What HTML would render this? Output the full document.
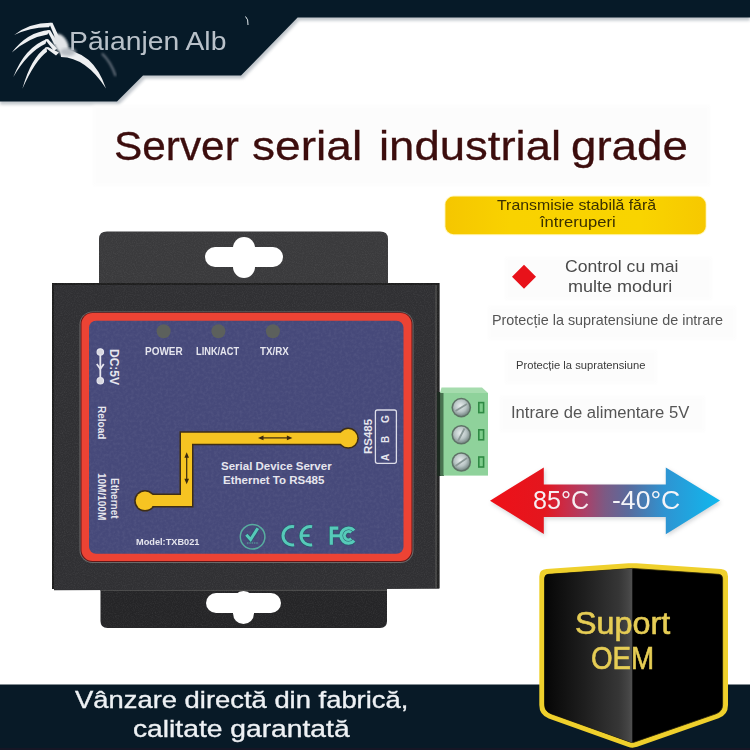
<!DOCTYPE html>
<html><head><meta charset="utf-8">
<style>
html,body{margin:0;padding:0;background:#fff;}
body{width:750px;height:750px;overflow:hidden;position:relative;font-family:"Liberation Sans",sans-serif;}
.abs{position:absolute;white-space:nowrap;line-height:1;}
svg.full{position:absolute;left:0;top:0;}
.lb{font-weight:bold;color:#e6e6ee;}
</style></head><body>

<svg class="full" width="750" height="750" viewBox="0 0 750 750">
  <defs>
    <filter id="sh" x="-10%" y="-10%" width="120%" height="140%"><feGaussianBlur stdDeviation="1.5"/></filter>
    <filter id="blur1"><feGaussianBlur stdDeviation="0.6"/></filter>
    <linearGradient id="pill" x1="0" y1="0" x2="1" y2="0">
      <stop offset="0" stop-color="#f5c600"/>
      <stop offset="0.25" stop-color="#f9d200"/>
      <stop offset="0.75" stop-color="#f9d400"/>
      <stop offset="1" stop-color="#f6c800"/>
    </linearGradient>
    <linearGradient id="arrowg" x1="490" y1="0" x2="720" y2="0" gradientUnits="userSpaceOnUse">
      <stop offset="0" stop-color="#ee1018"/>
      <stop offset="0.235" stop-color="#e4161e"/>
      <stop offset="0.32" stop-color="#cc2a44"/>
      <stop offset="0.42" stop-color="#a8426a"/>
      <stop offset="0.5" stop-color="#7c5a84"/>
      <stop offset="0.6" stop-color="#5a6a9c"/>
      <stop offset="0.76" stop-color="#2e94d2"/>
      <stop offset="1" stop-color="#10b8ee"/>
    </linearGradient>
    <filter id="ash" x="-10%" y="-20%" width="120%" height="140%"><feGaussianBlur stdDeviation="2"/></filter>
    <linearGradient id="shieldL" x1="545" y1="0" x2="632" y2="0" gradientUnits="userSpaceOnUse">
      <stop offset="0" stop-color="#060606"/>
      <stop offset="0.45" stop-color="#1e1e1e"/>
      <stop offset="0.85" stop-color="#363636"/>
      <stop offset="0.95" stop-color="#444444"/>
      <stop offset="1" stop-color="#4e4e4e"/>
    </linearGradient>
  </defs>

  <!-- header shape -->
  <polygon points="0,2 750,2 750,20.5 299,20.5 243,78.5 145,78.5 119,104.5 0,104.5" fill="#8c96a0" opacity="0.55" filter="url(#sh)"/>
  <polygon points="0,0 750,0 750,17.6 297.6,17.6 241,75.5 143,75.5 117,101.5 0,101.5" fill="#061a28"/>
  <!-- title light box -->
  <rect x="93" y="105" width="617" height="81" fill="#fcfcfc" opacity="0.8" filter="url(#sh)"/>

  <!-- bottom band -->
  <rect x="0" y="684.5" width="750" height="65.5" fill="#081a27"/>
  <rect x="0" y="748" width="750" height="2" fill="#201424" opacity="0.6"/>

  <!-- faint boxes -->
  <g fill="#fcfcfc" filter="url(#sh)" opacity="0.8">
    <rect x="505" y="257" width="207" height="43"/>
    <rect x="488" y="306" width="248" height="34"/>
    <rect x="505" y="350" width="152" height="34"/>
    <rect x="500" y="396" width="205" height="36"/>
  </g>
  <!-- yellow pill -->
  <rect x="444.4" y="195.6" width="262.3" height="39.6" rx="9" fill="#fff4a0" opacity="0.6" filter="url(#blur1)"/>
  <rect x="445.4" y="196.6" width="260.3" height="37.6" rx="8" fill="url(#pill)"/>

  <!-- red diamond -->
  <rect x="515.5" y="268.2" width="17" height="17" fill="#e8121a" transform="rotate(45 524 276.7)"/>

  <!-- temperature arrow -->
  <polygon points="491,502.7 545,469.3 545,486.3 667,486.3 667,469.3 721,502.7 667,536 667,519 545,519 545,536" fill="#808890" opacity="0.35" filter="url(#ash)"/>
  <polygon points="490,500.7 543.8,467.4 543.8,484.4 665.8,484.4 665.8,467.6 720,500.6 665.8,534.2 665.8,517 543.8,517 543.8,534" fill="url(#arrowg)"/>

  <!-- OEM shield -->
  <path d="M539.30,576.50 Q539.30,569.50 546.28,569.01 L628.51,563.28 Q632.50,563.00 636.49,563.27 L721.02,569.02 Q728.00,569.50 728.00,576.50 L728.00,705.00 Q728.00,715.00 718.56,718.31 L637.22,746.84 Q632.50,748.50 627.79,746.81 L548.71,718.38 Q539.30,715.00 539.30,705.00 Z" fill="#efd02c"/>
  <path d="M544.60,578.60 Q544.60,574.60 548.59,574.32 L632.20,568.41 Q632.30,568.40 632.40,568.41 L718.61,574.33 Q722.60,574.60 722.60,578.60 L722.60,704.50 Q722.60,711.50 715.99,713.79 L634.19,742.14 Q632.30,742.80 630.42,742.13 L551.19,713.85 Q544.60,711.50 544.60,704.50 Z" fill="#000" stroke="#2a2408" stroke-width="0.8"/>
  <path d="M544.60,578.60 Q544.60,574.60 548.59,574.32 L632.20,568.41 Q632.30,568.40 632.30,568.50 L632.30,742.70 Q632.30,742.80 632.21,742.77 L551.19,713.85 Q544.60,711.50 544.60,704.50 Z" fill="url(#shieldL)"/>

  <!-- ===== device ===== -->
  <defs>
    <filter id="noise" x="0" y="0" width="100%" height="100%">
      <feTurbulence type="fractalNoise" baseFrequency="0.9" numOctaves="2" seed="3" result="n"/>
      <feColorMatrix type="matrix" values="0 0 0 0 0.5  0 0 0 0 0.5  0 0 0 0 0.5  0 0 0 0.9 -0.35"/>
      <feComposite in2="SourceGraphic" operator="in"/>
    </filter>
    <filter id="noise2" x="0" y="0" width="100%" height="100%">
      <feTurbulence type="fractalNoise" baseFrequency="0.35" numOctaves="3" seed="7" result="n"/>
      <feColorMatrix type="matrix" values="0 0 0 0 0.6  0 0 0 0 0.6  0 0 0 0 0.7  0 0 0 1.2 -0.45"/>
      <feComposite in2="SourceGraphic" operator="in"/>
    </filter>
  </defs>
  <!-- top tab -->
  <path d="M99,290 L99,239 Q99,231.6 107,231.6 L380,231.6 Q388,231.6 388,239 L388,290 Z" fill="#3a3a3c"/>
  <rect x="205" y="247" width="78" height="20" rx="10" fill="#fff"/>
  <rect x="233" y="237" width="22" height="41" rx="11" fill="#fff"/>
  <!-- bottom tab -->
  <path d="M100.5,580 L100.5,621 Q100.5,628 107.5,628 L380,628 Q387,628 387,621 L387,580 Z" fill="#252527"/>
  <rect x="100.5" y="589.5" width="286.5" height="1.5" fill="#4a4a4a"/>
  <rect x="206" y="593" width="75" height="20" rx="10" fill="#fff"/>
  <rect x="233" y="591" width="21" height="33" rx="10.5" fill="#fff"/>
  <!-- body -->
  <polygon points="52,283.5 439.4,283 439.4,588.8 54,590.2" fill="#303033"/>
  <rect x="52" y="283" width="387.4" height="2" fill="#1e1e1e"/>
  <rect x="52" y="283" width="2" height="306" fill="#1e1e1e"/>
  <rect x="435" y="285" width="2" height="303" fill="#444"/>
  <rect x="437" y="285" width="2.4" height="303" fill="#222"/>
  <mask id="devmask" maskUnits="userSpaceOnUse" x="0" y="0" width="750" height="750">
    <rect x="52" y="283" width="387.4" height="306" fill="#fff"/>
    <rect x="99" y="232" width="289" height="60" rx="7" fill="#fff"/>
    <rect x="100.5" y="585" width="286.5" height="42.5" rx="5" fill="#fff"/>
    <rect x="205" y="247" width="78" height="20" rx="10" fill="#000"/>
    <rect x="233" y="237" width="22" height="41" rx="11" fill="#000"/>
    <rect x="206" y="593" width="75" height="20" rx="10" fill="#000"/>
    <rect x="233" y="591" width="21" height="33" rx="10.5" fill="#000"/>
  </mask>
  <g mask="url(#devmask)"><rect x="52" y="232" width="388" height="396" fill="#fff" filter="url(#noise)" opacity="0.22"/></g>
  <!-- red frame -->
  <rect x="79.5" y="311.5" width="334" height="251.5" rx="13" fill="#6a6a6a"/>
  <rect x="80.5" y="312.2" width="332" height="249.8" rx="12" fill="#641616"/>
  <rect x="81.5" y="313" width="330" height="248" rx="11" fill="#ec4334"/>
  <rect x="89" y="320.7" width="314.5" height="233" rx="7" fill="#46497a"/>
  <rect x="89" y="320.7" width="314.5" height="233" rx="7" fill="#fff" filter="url(#noise2)" opacity="0.12"/>

  <!-- LEDs -->
  <circle cx="163.6" cy="331.3" r="7" fill="#5c605c"/>
  <circle cx="218.4" cy="331.3" r="7" fill="#5c605c"/>
  <circle cx="272.9" cy="331.3" r="7" fill="#5c605c"/>

  <!-- yellow trace -->
  <g stroke="#3e2e16" stroke-width="14" fill="none" stroke-linejoin="miter">
    <polyline points="145,500.6 186.5,500.6 186.5,438.2 348.2,438.2"/>
  </g>
  <circle cx="145" cy="500.8" r="10.8" fill="#3e2e16"/>
  <circle cx="348.2" cy="438.2" r="10.6" fill="#3e2e16"/>
  <g stroke="#f6c422" stroke-width="11" fill="none" stroke-linejoin="miter">
    <polyline points="145,500.6 186.5,500.6 186.5,438.2 348.2,438.2"/>
  </g>
  <circle cx="145" cy="500.8" r="9.3" fill="#f6c422"/>
  <circle cx="348.2" cy="438.2" r="9.1" fill="#f6c422"/>
  <!-- trace arrows -->
  <g stroke="#3a2810" stroke-width="1.2" fill="none">
    <line x1="261" y1="437.9" x2="289.5" y2="437.9"/>
    <line x1="186.7" y1="455" x2="186.7" y2="481.5"/>
  </g>
  <g fill="#3a2810">
    <polygon points="258,437.9 263.5,435.6 263.5,440.2"/>
    <polygon points="292.4,437.9 286.9,435.6 286.9,440.2"/>
    <polygon points="186.7,452.3 184.4,457.8 189,457.8"/>
    <polygon points="186.7,484.3 184.4,478.8 189,478.8"/>
  </g>

  <!-- DC symbol -->
  <g stroke="#e6e6ee" stroke-width="1.8" fill="none">
    <circle cx="100.3" cy="352" r="3.2" fill="#d8d8e0" stroke-width="1.2"/>
    <circle cx="100.3" cy="380.7" r="3.2" fill="#d8d8e0" stroke-width="1.2"/>
    <line x1="100.3" y1="355" x2="100.3" y2="377.5"/>
    <polyline points="96.8,364 100.3,369 103.8,364"/>
  </g>

  <!-- RS485 box -->
  <rect x="375.4" y="410" width="21" height="53.3" rx="2" fill="none" stroke="#dcdce8" stroke-width="1.3"/>

  <!-- certification icons -->
  <g stroke="#1f5a64" fill="none" opacity="0.7">
    <path d="M294.11,526.80 A9.2,9.2 0 1 0 294.11,544.80" stroke-width="4.4"/>
    <path d="M312.11,526.80 A9.2,9.2 0 1 0 312.11,544.80" stroke-width="4.4"/>
    <line x1="301.6" y1="535.6" x2="309.6" y2="535.6" stroke-width="4.0"/>
    <polyline points="338.3,528.2 331.3,528.2 331.3,544.7" stroke-width="4.6"/>
    <line x1="331.3" y1="535.8" x2="340" y2="535.8" stroke-width="4.4"/>
    <path d="M354.15,530.51 A7.6,7.6 0 1 0 354.15,540.69" stroke-width="4.6"/>
    <path d="M351.24,532.55 A4.1,4.1 0 1 0 351.24,538.65" stroke-width="4.199999999999999"/>
    <polyline points="246.3,534.8 250.6,539.5 257.8,528.2" stroke-width="4.4"/>
  </g>
  <g stroke="#56cab9" fill="none">
    <circle cx="252.6" cy="536.8" r="12.3" stroke-width="1.5" stroke="#58ad9f"/>
    <line x1="247" y1="543" x2="258" y2="543" stroke-width="1.2" stroke="#58ad9f" stroke-dasharray="1.5 0.8"/>
    <path d="M294.11,526.80 A9.2,9.2 0 1 0 294.11,544.80" stroke-width="3"/>
    <path d="M312.11,526.80 A9.2,9.2 0 1 0 312.11,544.80" stroke-width="3"/>
    <line x1="301.6" y1="535.6" x2="309.6" y2="535.6" stroke-width="2.6"/>
    <polyline points="338.3,528.2 331.3,528.2 331.3,544.7" stroke-width="3.2"/>
    <line x1="331.3" y1="535.8" x2="340" y2="535.8" stroke-width="3.0"/>
    <path d="M354.15,530.51 A7.6,7.6 0 1 0 354.15,540.69" stroke-width="3.2"/>
    <path d="M351.24,532.55 A4.1,4.1 0 1 0 351.24,538.65" stroke-width="2.8"/>
    <polyline points="246.3,534.8 250.6,539.5 257.8,528.2" stroke-width="3"/>
  </g>

  <!-- terminal block -->
  <defs>
    <radialGradient id="screw" cx="0.45" cy="0.4" r="0.6">
      <stop offset="0" stop-color="#e8eeee"/>
      <stop offset="0.6" stop-color="#b8c4c4"/>
      <stop offset="1" stop-color="#7a8a88"/>
    </radialGradient>
  </defs>
  <rect x="437" y="392" width="7" height="84" fill="#1c2a20"/>
  <polygon points="440,393 441.5,387.6 482,387.6 488,393" fill="#a6dcae"/>
  <rect x="440.5" y="393" width="47.5" height="82.6" fill="#8fd29b"/>
  <rect x="440.5" y="393" width="3" height="82.6" fill="#2a4a30" opacity="0.7"/>
  <g>
    <circle cx="461.3" cy="407.6" r="9.8" fill="#5e7266"/>
    <circle cx="461.3" cy="407.6" r="8.3" fill="url(#screw)"/>
    <circle cx="461.3" cy="434.8" r="9.8" fill="#5e7266"/>
    <circle cx="461.3" cy="434.8" r="8.3" fill="url(#screw)"/>
    <circle cx="461.3" cy="462" r="9.8" fill="#5e7266"/>
    <circle cx="461.3" cy="462" r="8.3" fill="url(#screw)"/>
    <line x1="455.5" y1="411" x2="467" y2="404" stroke="#8a9896" stroke-width="1.8"/>
    <line x1="458" y1="441" x2="464.5" y2="428.5" stroke="#8a9896" stroke-width="1.8"/>
    <line x1="455.5" y1="466" x2="467" y2="458" stroke="#8a9896" stroke-width="1.8"/>
  </g>
  <g fill="#7ccc8a" stroke="#2f8a44" stroke-width="1.6">
    <rect x="478.8" y="402.6" width="4.8" height="10"/>
    <rect x="478.8" y="429.8" width="4.8" height="10"/>
    <rect x="478.8" y="457" width="4.8" height="10"/>
  </g>

  <!-- spider logo -->
  <defs><filter id="sb"><feGaussianBlur stdDeviation="1.6"/></filter><filter id="sb2"><feGaussianBlur stdDeviation="0.9"/></filter><filter id="sb3"><feGaussianBlur stdDeviation="0.35"/></filter></defs>
  <g fill="#eef0f2" filter="url(#sb3)">
    <!-- claws -->
    <path d="M51.5,22.8 Q30,22.5 14.2,35 Q31,26.8 49,27.2 Z"/>
    <path d="M49.5,30 Q27,32 11.8,52.6 Q29,37.5 47.5,34.6 Z"/>
    <path d="M47,39 Q25,47 13.3,77 Q28,52 45.5,43.8 Z"/>
    <path d="M46.5,47 Q31,57.5 22.4,88.8 Q35,60.5 47,51.8 Z"/>
    <!-- femurs -->
    <path d="M49,23 L52.5,22.8 L59,37 L55.5,38.5 Z"/>
    <path d="M47,30.5 L50,30 L58,43 L54.5,44.5 Z"/>
    <path d="M45,39.5 L48,39 L57,48.5 L54,51 Z"/>
    <path d="M45,47.5 L48,47 L59,52.5 L56,55.5 Z"/>
    <!-- right leg -->
    <path d="M60,49.5 Q93,50 106,88.5 Q86,57.5 61,57 Z"/>
  </g>
  <ellipse cx="61" cy="44" rx="6.5" ry="11" fill="#e2e5e8" transform="rotate(-28 61 44)" filter="url(#sb2)"/>
  <ellipse cx="68" cy="52" rx="8" ry="4" fill="#b8bec4" filter="url(#sb)"/>
  <path d="M245.5,16.5 Q248.5,19 248,25" stroke="#e8eef2" stroke-width="1" fill="none"/>
  <path d="M102,53.5 Q111,62 115.6,76" stroke="#6a7480" stroke-width="2" fill="none" filter="url(#sb2)"/>
</svg>

<div class="abs" id="logo" style="left:68.5px;top:28.6px;font-size:25.5px;color:#b9c1c9;transform-origin:0 0;transform:scaleX(1.110);">Păianjen Alb</div>

<div class="abs" style="left:113.9px;top:126.1px;font-size:41.3px;color:#3c0d0d;-webkit-text-stroke:0.3px #3c0d0d;transform-origin:0 0;transform:scaleX(1.026);">Server</div>
<div class="abs" style="left:251.8px;top:126.1px;font-size:41.3px;color:#3c0d0d;-webkit-text-stroke:0.3px #3c0d0d;transform-origin:0 0;transform:scaleX(1.116);">serial</div>
<div class="abs" style="left:378.8px;top:126.1px;font-size:41.3px;color:#3c0d0d;-webkit-text-stroke:0.3px #3c0d0d;transform-origin:0 0;transform:scaleX(1.102);">industrial</div>
<div class="abs" style="left:570.7px;top:126.1px;font-size:41.3px;color:#3c0d0d;-webkit-text-stroke:0.3px #3c0d0d;transform-origin:0 0;transform:scaleX(1.106);">grade</div>

<!-- right column -->
<div class="abs" style="left:497.2px;top:197.5px;font-size:14.3px;color:#3a3000;transform-origin:0 0;transform:scaleX(1.11);">Transmisie stabilă fără</div>
<div class="abs" style="left:540px;top:215.3px;font-size:14.3px;color:#3a3000;transform-origin:0 0;transform:scaleX(1.16);">întreruperi</div>
<div class="abs" style="left:565px;top:258.3px;font-size:17px;color:#4a4a4a;transform-origin:0 0;transform:scaleX(1.035);">Control cu mai</div>
<div class="abs" style="left:567.7px;top:278px;font-size:17px;color:#4a4a4a;transform-origin:0 0;transform:scaleX(1.06);">multe moduri</div>
<div class="abs" style="left:491.6px;top:313.4px;font-size:14.6px;color:#555;transform-origin:0 0;transform:scaleX(0.985);">Protecție la supratensiune de intrare</div>
<div class="abs" style="left:516.1px;top:360.8px;font-size:10.4px;color:#3a3a3a;transform-origin:0 0;transform:scaleX(1.078);">Protecție la supratensiune</div>
<div class="abs" style="left:510.6px;top:405px;font-size:16.7px;color:#555;transform-origin:0 0;transform:scaleX(0.996);">Intrare de alimentare 5V</div>
<div class="abs" style="left:533px;top:488.3px;font-size:25.5px;color:#f6eef2;transform-origin:0 0;transform:scaleX(0.985);">85°C</div>
<div class="abs" style="left:611.9px;top:488.3px;font-size:25.5px;color:#f4f4f8;transform-origin:0 0;transform:scaleX(1.043);">-40°C</div>
<div class="abs" style="left:574.6px;top:607.6px;font-size:30.5px;color:#e6cd55;-webkit-text-stroke:0.6px #e6cd55;transform-origin:0 0;transform:scaleX(1.06);">Suport</div>
<div class="abs" style="left:590.8px;top:642.6px;font-size:30.5px;color:#e6cd55;-webkit-text-stroke:0.6px #e6cd55;transform-origin:0 0;transform:scaleX(0.91);">OEM</div>

<!-- bottom text -->
<div class="abs" style="left:75.1px;top:688.1px;font-size:24.3px;color:#eef1f4;-webkit-text-stroke:0.35px #eef1f4;transform-origin:0 0;transform:scaleX(1.127);">Vânzare directă din fabrică,</div>
<div class="abs" style="left:132.7px;top:716.9px;font-size:24.3px;color:#eef1f4;-webkit-text-stroke:0.35px #eef1f4;transform-origin:0 0;transform:scaleX(1.162);">calitate garantată</div>

<!-- device labels -->
<div class="abs lb" style="left:145px;top:345.5px;font-size:10.5px;transform-origin:0 0;transform:scaleX(0.95);">POWER</div>
<div class="abs lb" style="left:195.5px;top:345.5px;font-size:10.5px;transform-origin:0 0;transform:scaleX(0.88);">LINK/ACT</div>
<div class="abs lb" style="left:259.5px;top:345.5px;font-size:10.5px;transform-origin:0 0;transform:scaleX(0.93);">TX/RX</div>
<div class="abs lb" style="left:221px;top:461px;font-size:11.5px;">Serial Device Server</div>
<div class="abs lb" style="left:223px;top:475px;font-size:11.5px;">Ethernet To RS485</div>
<div class="abs lb" style="left:135.5px;top:536.5px;font-size:9.5px;transform-origin:0 0;transform:scaleX(0.97);">Model:TXB021</div>

<!-- rotated labels (clockwise) -->
<div class="abs lb" style="left:114px;top:348.5px;font-size:12px;transform-origin:0 0;transform:rotate(90deg) translate(0,-6px);">DC:5V</div>
<div class="abs lb" style="left:101px;top:406px;font-size:10px;transform-origin:0 0;transform:rotate(90deg) translate(0,-5px);">Reload</div>
<div class="abs lb" style="left:114px;top:478px;font-size:10px;transform-origin:0 0;transform:rotate(90deg) translate(0,-5px);">Ethernet</div>
<div class="abs lb" style="left:101px;top:473px;font-size:10px;transform-origin:0 0;transform:rotate(90deg) translate(0,-5px);">10M/100M</div>
<!-- rotated CCW -->
<div class="abs lb" style="left:368.5px;top:453.5px;font-size:11.5px;transform-origin:0 0;transform:rotate(-90deg) translate(0,-6px);">RS485</div>
<div class="abs lb" style="left:386px;top:423px;font-size:10px;transform-origin:0 0;transform:rotate(-90deg) translate(0,-5px);">G</div>
<div class="abs lb" style="left:386px;top:443px;font-size:10px;transform-origin:0 0;transform:rotate(-90deg) translate(0,-5px);">B</div>
<div class="abs lb" style="left:386px;top:461px;font-size:10px;transform-origin:0 0;transform:rotate(-90deg) translate(0,-5px);">A</div>

</body></html>
